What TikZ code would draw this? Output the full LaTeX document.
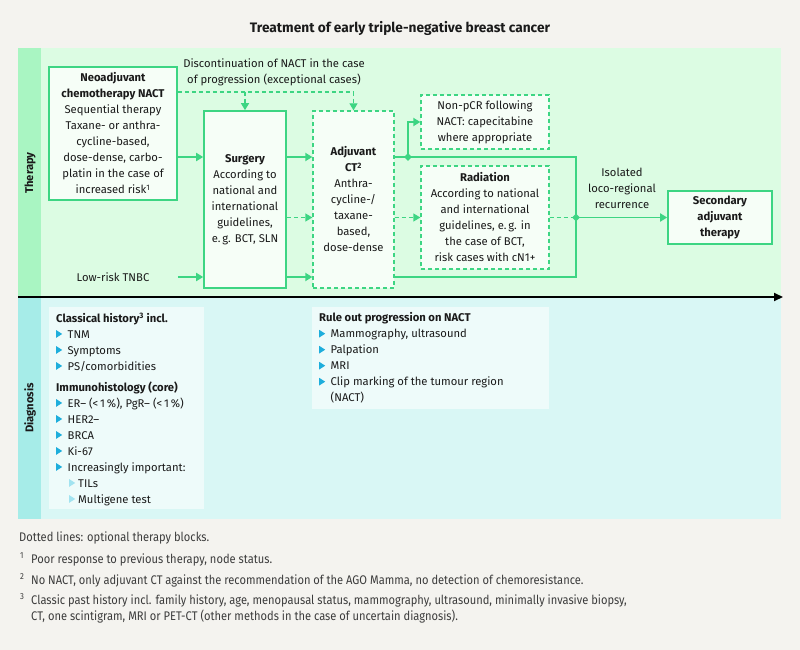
\documentclass[tikz,border=0pt]{standalone}
\usepackage{fontspec}
\setmainfont{Fira Sans}
\newfontfamily\condfont[FakeStretch=0.89]{Fira Sans}
\usetikzlibrary{arrows.meta,shapes.geometric,calc}
\definecolor{bgc}{HTML}{F4F3EF}
\definecolor{thc}{HTML}{DCFCE3}
\definecolor{ths}{HTML}{A9F5C2}
\definecolor{dgc}{HTML}{D9F7F5}
\definecolor{dgs}{HTML}{A6ECE8}
\definecolor{tg}{HTML}{3DD583}
\definecolor{boxf}{HTML}{F6FEF7}
\definecolor{dboxf}{HTML}{EEFBFA}
\definecolor{bcy}{HTML}{1EAEDC}
\definecolor{bcl}{HTML}{A2E3F0}
\definecolor{txt}{HTML}{1A1A1A}
\newcommand\mybul{\makebox[11.5pt][l]{\tikz[baseline=0pt,x=1pt,y=1pt]\fill[bcy](0.5,0.3)--(0.5,8)--(6.5,4.15)--cycle;}}
\newcommand\mysubbul{\makebox[9pt][l]{\tikz[baseline=0pt,x=1pt,y=1pt]\fill[bcl](0.5,0.3)--(0.5,8)--(6.5,4.15)--cycle;}}
\begin{document}
\begin{tikzpicture}[x=1pt,y=-1pt,
  every node/.style={text=txt},
  mainf/.style={font=\fontsize{11.25}{16}\selectfont},
  box/.style={draw=tg, line width=1.6pt, fill=boxf, align=center, inner sep=0pt, mainf},
  dbox/.style={box, dash pattern=on 4pt off 3pt, line width=1.3pt},
  ln/.style={draw=tg, line width=1.7pt},
  dln/.style={draw=tg, line width=1.3pt, dash pattern=on 4pt off 3pt},
  arr/.style={ln, -{Triangle[length=7pt,width=8pt]}},
  darr/.style={dln, -{Triangle[length=7pt,width=8pt]}},
  jdot/.style={diamond, fill=tg, inner sep=0pt, minimum size=8pt},
  lbl/.style={align=center, inner sep=0pt, mainf},
  dgbox/.style={fill=dboxf, inner sep=0pt},
  dtext/.style={anchor=north west, align=left, inner sep=0pt, mainf},
  fn/.style={anchor=base west, inner sep=0pt, text=txt!85, font=\condfont\fontsize{12.5}{15}\selectfont}
]
\useasboundingbox (0,0) rectangle (800,650);
\fill[bgc] (0,0) rectangle (800,650);
% title
\node[font=\fontsize{13.7}{16}\selectfont\bfseries] (title) at (400,28) {Treatment of early triple-negative breast cancer};
% bands
\fill[thc] (18,48) rectangle (781,297);
\fill[ths] (18,48) rectangle (41,297);
\fill[dgc] (18,297) rectangle (781,519);
\fill[dgs] (18,297) rectangle (41,519);
\node[rotate=90, font=\fontsize{11.25}{13}\selectfont\bfseries] (thl) at (30,173) {Therapy};
\node[rotate=90, font=\fontsize{11.25}{13}\selectfont\bfseries] (dgl) at (30,408) {Diagnosis};
\draw[line width=2pt, -{Triangle[length=9pt,width=8pt]}] (18,297) -- (783,297);
% therapy boxes
\node[box, minimum width=128, minimum height=133] (nact) at (113,133.5)
 {\textbf{Neoadjuvant}\\\textbf{chemotherapy NACT}\\Sequential therapy\\Taxane- or anthra-\\cycline-based,\\dose-dense, carbo-\\platin in the case of\\increased risk\textsuperscript{1}};
\node[box, minimum width=82, minimum height=177] (surg) at (245,199.5)
 {\textbf{Surgery}\\According to\\national and\\international\\guidelines,\\e.\,g. BCT, SLN};
\node[dbox, minimum width=81, minimum height=177] (adj) at (353.5,199.5)
 {\textbf{Adjuvant}\\\textbf{CT\textsuperscript{2}}\\Anthra-\\cycline-/\\taxane-\\based,\\dose-dense};
\node[dbox, minimum width=128, minimum height=54] (nonpcr) at (485,122)
 {Non-pCR following\\NACT: capecitabine\\where appropriate};
\node[dbox, minimum width=128, minimum height=103] (rad) at (485,217.5)
 {\textbf{Radiation}\\According to national\\and international\\guidelines, e.\,g. in\\the case of BCT,\\risk cases with cN1+};
\node[box, minimum width=104, minimum height=53] (sec) at (720,217.5)
 {\textbf{Secondary}\\\textbf{adjuvant}\\\textbf{therapy}};
% labels
\node[lbl] (disc) at (274,72) {Discontinuation of NACT in the case\\of progression (exceptional cases)};
\node[lbl] (low) at (113,277) {Low-risk TNBC};
\node[lbl] (iso) at (622,188) {Isolated\\loco-regional\\recurrence};
% row coordinates
\coordinate (yA) at (0,157);
\coordinate (yB) at (0,217.5);
\coordinate (yC) at (0,277);
\coordinate (yD) at (0,92);
\coordinate (xR) at (576,0);
\coordinate (xJ) at (408,0);
% connectors
\draw[arr] (nact.east |- yA) -- (surg.west |- yA);
\draw[arr] (surg.east |- yA) -- (adj.west |- yA);
\draw[darr] (surg.east |- yB) -- (adj.west |- yB);
\draw[arr] (nact.east |- low) -- (surg.west |- low);
\draw[arr] (surg.east |- low) -- (adj.west |- low);
\draw[dln] (nact.east |- yD) -- (adj.north |- yD);
\draw[darr] (surg.north |- yD) -- (surg.north);
\draw[darr] (adj.north |- yD) -- (adj.north);
\draw[ln] (adj.east |- yA) -- (xR |- yA) -- (xR |- yC) -- (adj.east |- yC);
\draw[arr] (xJ |- yA) -- (xJ |- nonpcr.west) -- (nonpcr.west);
\draw[darr] (adj.east |- rad.west) -- (rad.west);
\draw[dln] (rad.east) -- (xR |- rad.east);
\draw[arr] (xR |- sec.west) -- (sec.west);
\node[jdot] (j1) at (xJ |- yA) {};
\node[jdot] (j2) at (xR |- yB) {};
% diagnosis boxes
\node[dgbox, minimum width=155, minimum height=202, anchor=north west] (cbox) at (49,307) {};
\node[dtext] (ctext) at ($(cbox.north west)+(7,5.5)$)
 {\textbf{Classical history\textsuperscript{3} incl.}\\
  \mybul TNM\\
  \mybul Symptoms\\
  \mybul PS/comorbidities\\[5pt]
  \textbf{Immunohistology (core)}\\
  \mybul ER– (<\,1\,\%), PgR– (<\,1\,\%)\\
  \mybul HER2–\\
  \mybul BRCA\\
  \mybul Ki-67\\
  \mybul Increasingly important:\\
  \hspace*{13pt}\mysubbul TILs\\
  \hspace*{13pt}\mysubbul Multigene test};
\node[dgbox, minimum width=237, minimum height=102, anchor=north west] (rbox) at (312,307) {};
\node[dtext] (rtext) at ($(rbox.north west)+(7,5.5)$)
 {\textbf{Rule out progression on NACT}\\
  \mybul Mammography, ultrasound\\
  \mybul Palpation\\
  \mybul MRI\\
  \mybul Clip marking of the tumour region\\
  \hspace*{11.5pt}(NACT)};
% footnotes
\node[fn] (f0) at (19,541) {Dotted lines: optional therapy blocks.};
\node[fn] (f1) at (20,563) {\makebox[11pt][l]{\textsuperscript{1}}Poor response to previous therapy, node status.};
\node[fn] (f2) at (20,584) {\makebox[11pt][l]{\textsuperscript{2}}No NACT, only adjuvant CT against the recommendation of the AGO Mamma, no detection of chemoresistance.};
\node[fn] (f3) at (20,604) {\makebox[11pt][l]{\textsuperscript{3}}Classic past history incl. family history, age, menopausal status, mammography, ultrasound, minimally invasive biopsy,};
\node[fn] (f3b) at (31,620) {CT, one scintigram, MRI or PET-CT (other methods in the case of uncertain diagnosis).};
\end{tikzpicture}
\end{document}
